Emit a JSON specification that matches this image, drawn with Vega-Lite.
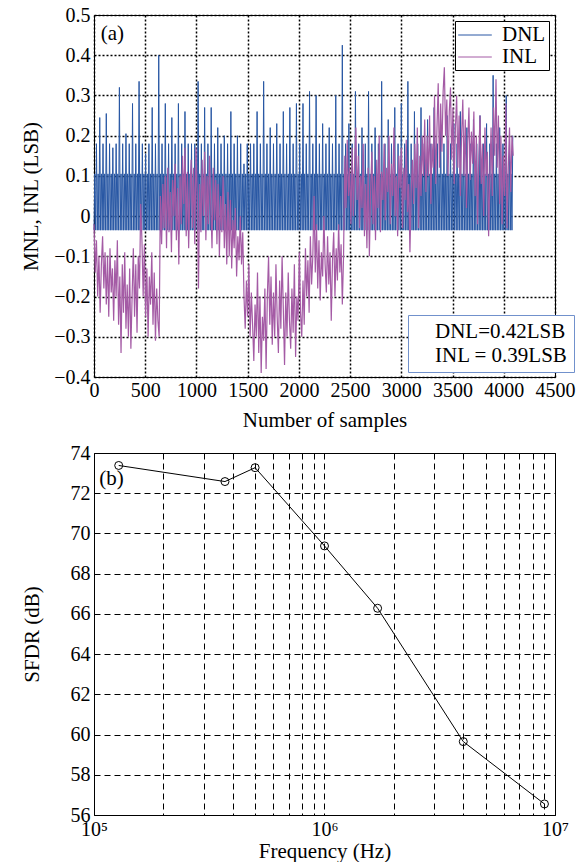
{
"$schema": "https://vega.github.io/schema/vega-lite/v6.json",
"padding": {"left": 20, "top": 4, "right": 5, "bottom": 0},
"spacing": 11,
"datasets": {
"dnl": [
{"x":0,"y":-0.035},{"x":8,"y":0.105},{"x":16,"y":-0.035},{"x":24,"y":0.18},{"x":32,"y":-0.035},{"x":40,"y":0.105},{"x":48,"y":-0.035},{"x":56,"y":0.245},
{"x":64,"y":-0.035},{"x":72,"y":0.105},{"x":80,"y":-0.035},{"x":88,"y":0.18},{"x":96,"y":-0.035},{"x":104,"y":0.105},{"x":112,"y":-0.035},{"x":120,"y":0.255},
{"x":128,"y":-0.035},{"x":136,"y":0.105},{"x":144,"y":-0.035},{"x":152,"y":0.18},{"x":160,"y":-0.035},{"x":168,"y":0.105},{"x":176,"y":-0.035},{"x":184,"y":0.17},
{"x":192,"y":-0.035},{"x":200,"y":0.105},{"x":208,"y":-0.035},{"x":216,"y":0.18},{"x":224,"y":-0.035},{"x":232,"y":0.105},{"x":240,"y":-0.035},{"x":248,"y":0.32},
{"x":256,"y":-0.035},{"x":264,"y":0.105},{"x":272,"y":-0.035},{"x":280,"y":0.18},{"x":288,"y":-0.035},{"x":296,"y":0.105},{"x":304,"y":-0.035},{"x":312,"y":0.205},
{"x":320,"y":-0.035},{"x":328,"y":0.105},{"x":336,"y":-0.035},{"x":344,"y":0.18},{"x":352,"y":-0.035},{"x":360,"y":0.105},{"x":368,"y":-0.035},{"x":376,"y":0.28},
{"x":384,"y":-0.035},{"x":392,"y":0.105},{"x":400,"y":-0.035},{"x":408,"y":0.18},{"x":416,"y":-0.035},{"x":424,"y":0.105},{"x":432,"y":-0.035},{"x":440,"y":0.335},
{"x":448,"y":-0.035},{"x":456,"y":0.105},{"x":464,"y":-0.035},{"x":472,"y":0.18},{"x":480,"y":-0.035},{"x":488,"y":0.105},{"x":496,"y":-0.035},{"x":504,"y":0.155},
{"x":512,"y":-0.035},{"x":520,"y":0.105},{"x":528,"y":-0.035},{"x":536,"y":0.18},{"x":544,"y":-0.035},{"x":552,"y":0.105},{"x":560,"y":-0.035},{"x":568,"y":0.27},
{"x":576,"y":-0.035},{"x":584,"y":0.105},{"x":592,"y":-0.035},{"x":600,"y":0.18},{"x":608,"y":-0.035},{"x":616,"y":0.105},{"x":624,"y":-0.035},{"x":632,"y":0.4},
{"x":640,"y":-0.035},{"x":648,"y":0.105},{"x":656,"y":-0.035},{"x":664,"y":0.18},{"x":672,"y":-0.035},{"x":680,"y":0.105},{"x":688,"y":-0.035},{"x":696,"y":0.28},
{"x":704,"y":-0.035},{"x":712,"y":0.105},{"x":720,"y":-0.035},{"x":728,"y":0.18},{"x":736,"y":-0.035},{"x":744,"y":0.105},{"x":752,"y":-0.035},{"x":760,"y":0.245},
{"x":768,"y":-0.035},{"x":776,"y":0.105},{"x":784,"y":-0.035},{"x":792,"y":0.18},{"x":800,"y":-0.035},{"x":808,"y":0.105},{"x":816,"y":-0.035},{"x":824,"y":0.28},
{"x":832,"y":-0.035},{"x":840,"y":0.105},{"x":848,"y":-0.035},{"x":856,"y":0.18},{"x":864,"y":-0.035},{"x":872,"y":0.105},{"x":880,"y":-0.035},{"x":888,"y":0.26},
{"x":896,"y":-0.035},{"x":904,"y":0.105},{"x":912,"y":-0.035},{"x":920,"y":0.18},{"x":928,"y":-0.035},{"x":936,"y":0.105},{"x":944,"y":-0.035},{"x":952,"y":0.18},
{"x":960,"y":-0.035},{"x":968,"y":0.105},{"x":976,"y":-0.035},{"x":984,"y":0.18},{"x":992,"y":-0.035},{"x":1000,"y":0.105},{"x":1008,"y":-0.035},{"x":1016,"y":0.335},
{"x":1024,"y":-0.035},{"x":1032,"y":0.105},{"x":1040,"y":-0.035},{"x":1048,"y":0.18},{"x":1056,"y":-0.035},{"x":1064,"y":0.105},{"x":1072,"y":-0.035},{"x":1080,"y":0.27},
{"x":1088,"y":-0.035},{"x":1096,"y":0.105},{"x":1104,"y":-0.035},{"x":1112,"y":0.18},{"x":1120,"y":-0.035},{"x":1128,"y":0.105},{"x":1136,"y":-0.035},{"x":1144,"y":0.27},
{"x":1152,"y":-0.035},{"x":1160,"y":0.105},{"x":1168,"y":-0.035},{"x":1176,"y":0.18},{"x":1184,"y":-0.035},{"x":1192,"y":0.105},{"x":1200,"y":-0.035},{"x":1208,"y":0.22},
{"x":1216,"y":-0.035},{"x":1224,"y":0.105},{"x":1232,"y":-0.035},{"x":1240,"y":0.18},{"x":1248,"y":-0.035},{"x":1256,"y":0.105},{"x":1264,"y":-0.035},{"x":1272,"y":0.2},
{"x":1280,"y":-0.035},{"x":1288,"y":0.105},{"x":1296,"y":-0.035},{"x":1304,"y":0.18},{"x":1312,"y":-0.035},{"x":1320,"y":0.105},{"x":1328,"y":-0.035},{"x":1336,"y":0.26},
{"x":1344,"y":-0.035},{"x":1352,"y":0.105},{"x":1360,"y":-0.035},{"x":1368,"y":0.18},{"x":1376,"y":-0.035},{"x":1384,"y":0.105},{"x":1392,"y":-0.035},{"x":1400,"y":0.2},
{"x":1408,"y":-0.035},{"x":1416,"y":0.105},{"x":1424,"y":-0.035},{"x":1432,"y":0.18},{"x":1440,"y":-0.035},{"x":1448,"y":0.105},{"x":1456,"y":-0.035},{"x":1464,"y":0.13},
{"x":1472,"y":-0.035},{"x":1480,"y":0.105},{"x":1488,"y":-0.035},{"x":1496,"y":0.18},{"x":1504,"y":-0.035},{"x":1512,"y":0.105},{"x":1520,"y":-0.035},{"x":1528,"y":0.18},
{"x":1536,"y":-0.035},{"x":1544,"y":0.105},{"x":1552,"y":-0.035},{"x":1560,"y":0.18},{"x":1568,"y":-0.035},{"x":1576,"y":0.105},{"x":1584,"y":-0.035},{"x":1592,"y":0.26},
{"x":1600,"y":-0.035},{"x":1608,"y":0.105},{"x":1616,"y":-0.035},{"x":1624,"y":0.18},{"x":1632,"y":-0.035},{"x":1640,"y":0.105},{"x":1648,"y":-0.035},{"x":1656,"y":0.335},
{"x":1664,"y":-0.035},{"x":1672,"y":0.105},{"x":1680,"y":-0.035},{"x":1688,"y":0.18},{"x":1696,"y":-0.035},{"x":1704,"y":0.105},{"x":1712,"y":-0.035},{"x":1720,"y":0.22},
{"x":1728,"y":-0.035},{"x":1736,"y":0.105},{"x":1744,"y":-0.035},{"x":1752,"y":0.18},{"x":1760,"y":-0.035},{"x":1768,"y":0.105},{"x":1776,"y":-0.035},{"x":1784,"y":0.23},
{"x":1792,"y":-0.035},{"x":1800,"y":0.105},{"x":1808,"y":-0.035},{"x":1816,"y":0.18},{"x":1824,"y":-0.035},{"x":1832,"y":0.105},{"x":1840,"y":-0.035},{"x":1848,"y":0.26},
{"x":1856,"y":-0.035},{"x":1864,"y":0.105},{"x":1872,"y":-0.035},{"x":1880,"y":0.18},{"x":1888,"y":-0.035},{"x":1896,"y":0.105},{"x":1904,"y":-0.035},{"x":1912,"y":0.27},
{"x":1920,"y":-0.035},{"x":1928,"y":0.105},{"x":1936,"y":-0.035},{"x":1944,"y":0.18},{"x":1952,"y":-0.035},{"x":1960,"y":0.105},{"x":1968,"y":-0.035},{"x":1976,"y":0.28},
{"x":1984,"y":-0.035},{"x":1992,"y":0.105},{"x":2000,"y":-0.035},{"x":2008,"y":0.18},{"x":2016,"y":-0.035},{"x":2024,"y":0.105},{"x":2032,"y":-0.035},{"x":2040,"y":0.28},
{"x":2048,"y":-0.035},{"x":2056,"y":0.105},{"x":2064,"y":-0.035},{"x":2072,"y":0.18},{"x":2080,"y":-0.035},{"x":2088,"y":0.105},{"x":2096,"y":-0.035},{"x":2104,"y":0.31},
{"x":2112,"y":-0.035},{"x":2120,"y":0.105},{"x":2128,"y":-0.035},{"x":2136,"y":0.18},{"x":2144,"y":-0.035},{"x":2152,"y":0.105},{"x":2160,"y":-0.035},{"x":2168,"y":0.3},
{"x":2176,"y":-0.035},{"x":2184,"y":0.105},{"x":2192,"y":-0.035},{"x":2200,"y":0.18},{"x":2208,"y":-0.035},{"x":2216,"y":0.105},{"x":2224,"y":-0.035},{"x":2232,"y":0.23},
{"x":2240,"y":-0.035},{"x":2248,"y":0.105},{"x":2256,"y":-0.035},{"x":2264,"y":0.18},{"x":2272,"y":-0.035},{"x":2280,"y":0.105},{"x":2288,"y":-0.035},{"x":2296,"y":0.22},
{"x":2304,"y":-0.035},{"x":2312,"y":0.105},{"x":2320,"y":-0.035},{"x":2328,"y":0.18},{"x":2336,"y":-0.035},{"x":2344,"y":0.105},{"x":2352,"y":-0.035},{"x":2360,"y":0.3},
{"x":2368,"y":-0.035},{"x":2376,"y":0.105},{"x":2384,"y":-0.035},{"x":2392,"y":0.18},{"x":2400,"y":-0.035},{"x":2408,"y":0.105},{"x":2416,"y":-0.035},{"x":2424,"y":0.425},
{"x":2432,"y":-0.035},{"x":2440,"y":0.105},{"x":2448,"y":-0.035},{"x":2456,"y":0.18},{"x":2464,"y":-0.035},{"x":2472,"y":0.105},{"x":2480,"y":-0.035},{"x":2488,"y":0.23},
{"x":2496,"y":-0.035},{"x":2504,"y":0.105},{"x":2512,"y":-0.035},{"x":2520,"y":0.18},{"x":2528,"y":-0.035},{"x":2536,"y":0.105},{"x":2544,"y":-0.035},{"x":2552,"y":0.31},
{"x":2560,"y":-0.035},{"x":2568,"y":0.105},{"x":2576,"y":-0.035},{"x":2584,"y":0.18},{"x":2592,"y":-0.035},{"x":2600,"y":0.105},{"x":2608,"y":-0.035},{"x":2616,"y":0.22},
{"x":2624,"y":-0.035},{"x":2632,"y":0.105},{"x":2640,"y":-0.035},{"x":2648,"y":0.18},{"x":2656,"y":-0.035},{"x":2664,"y":0.105},{"x":2672,"y":-0.035},{"x":2680,"y":0.31},
{"x":2688,"y":-0.035},{"x":2696,"y":0.105},{"x":2704,"y":-0.035},{"x":2712,"y":0.18},{"x":2720,"y":-0.035},{"x":2728,"y":0.105},{"x":2736,"y":-0.035},{"x":2744,"y":0.22},
{"x":2752,"y":-0.035},{"x":2760,"y":0.105},{"x":2768,"y":-0.035},{"x":2776,"y":0.18},{"x":2784,"y":-0.035},{"x":2792,"y":0.105},{"x":2800,"y":-0.035},{"x":2808,"y":0.335},
{"x":2816,"y":-0.035},{"x":2824,"y":0.105},{"x":2832,"y":-0.035},{"x":2840,"y":0.18},{"x":2848,"y":-0.035},{"x":2856,"y":0.105},{"x":2864,"y":-0.035},{"x":2872,"y":0.24},
{"x":2880,"y":-0.035},{"x":2888,"y":0.105},{"x":2896,"y":-0.035},{"x":2904,"y":0.18},{"x":2912,"y":-0.035},{"x":2920,"y":0.105},{"x":2928,"y":-0.035},{"x":2936,"y":0.27},
{"x":2944,"y":-0.035},{"x":2952,"y":0.105},{"x":2960,"y":-0.035},{"x":2968,"y":0.18},{"x":2976,"y":-0.035},{"x":2984,"y":0.105},{"x":2992,"y":-0.035},{"x":3000,"y":0.28},
{"x":3008,"y":-0.035},{"x":3016,"y":0.105},{"x":3024,"y":-0.035},{"x":3032,"y":0.18},{"x":3040,"y":-0.035},{"x":3048,"y":0.105},{"x":3056,"y":-0.035},{"x":3064,"y":0.335},
{"x":3072,"y":-0.035},{"x":3080,"y":0.105},{"x":3088,"y":-0.035},{"x":3096,"y":0.18},{"x":3104,"y":-0.035},{"x":3112,"y":0.105},{"x":3120,"y":-0.035},{"x":3128,"y":0.26},
{"x":3136,"y":-0.035},{"x":3144,"y":0.105},{"x":3152,"y":-0.035},{"x":3160,"y":0.18},{"x":3168,"y":-0.035},{"x":3176,"y":0.105},{"x":3184,"y":-0.035},{"x":3192,"y":0.27},
{"x":3200,"y":-0.035},{"x":3208,"y":0.105},{"x":3216,"y":-0.035},{"x":3224,"y":0.18},{"x":3232,"y":-0.035},{"x":3240,"y":0.105},{"x":3248,"y":-0.035},{"x":3256,"y":0.24},
{"x":3264,"y":-0.035},{"x":3272,"y":0.105},{"x":3280,"y":-0.035},{"x":3288,"y":0.18},{"x":3296,"y":-0.035},{"x":3304,"y":0.105},{"x":3312,"y":-0.035},{"x":3320,"y":0.27},
{"x":3328,"y":-0.035},{"x":3336,"y":0.105},{"x":3344,"y":-0.035},{"x":3352,"y":0.18},{"x":3360,"y":-0.035},{"x":3368,"y":0.105},{"x":3376,"y":-0.035},{"x":3384,"y":0.22},
{"x":3392,"y":-0.035},{"x":3400,"y":0.105},{"x":3408,"y":-0.035},{"x":3416,"y":0.18},{"x":3424,"y":-0.035},{"x":3432,"y":0.105},{"x":3440,"y":-0.035},{"x":3448,"y":0.25},
{"x":3456,"y":-0.035},{"x":3464,"y":0.105},{"x":3472,"y":-0.035},{"x":3480,"y":0.18},{"x":3488,"y":-0.035},{"x":3496,"y":0.105},{"x":3504,"y":-0.035},{"x":3512,"y":0.23},
{"x":3520,"y":-0.035},{"x":3528,"y":0.105},{"x":3536,"y":-0.035},{"x":3544,"y":0.18},{"x":3552,"y":-0.035},{"x":3560,"y":0.105},{"x":3568,"y":-0.035},{"x":3576,"y":0.26},
{"x":3584,"y":-0.035},{"x":3592,"y":0.105},{"x":3600,"y":-0.035},{"x":3608,"y":0.18},{"x":3616,"y":-0.035},{"x":3624,"y":0.105},{"x":3632,"y":-0.035},{"x":3640,"y":0.22},
{"x":3648,"y":-0.035},{"x":3656,"y":0.105},{"x":3664,"y":-0.035},{"x":3672,"y":0.18},{"x":3680,"y":-0.035},{"x":3688,"y":0.105},{"x":3696,"y":-0.035},{"x":3704,"y":0.24},
{"x":3712,"y":-0.035},{"x":3720,"y":0.105},{"x":3728,"y":-0.035},{"x":3736,"y":0.18},{"x":3744,"y":-0.035},{"x":3752,"y":0.105},{"x":3760,"y":-0.035},{"x":3768,"y":0.25},
{"x":3776,"y":-0.035},{"x":3784,"y":0.105},{"x":3792,"y":-0.035},{"x":3800,"y":0.18},{"x":3808,"y":-0.035},{"x":3816,"y":0.105},{"x":3824,"y":-0.035},{"x":3832,"y":0.23},
{"x":3840,"y":-0.035},{"x":3848,"y":0.105},{"x":3856,"y":-0.035},{"x":3864,"y":0.18},{"x":3872,"y":-0.035},{"x":3880,"y":0.105},{"x":3888,"y":-0.035},{"x":3896,"y":0.35},
{"x":3904,"y":-0.035},{"x":3912,"y":0.105},{"x":3920,"y":-0.035},{"x":3928,"y":0.18},{"x":3936,"y":-0.035},{"x":3944,"y":0.105},{"x":3952,"y":-0.035},{"x":3960,"y":0.22},
{"x":3968,"y":-0.035},{"x":3976,"y":0.105},{"x":3984,"y":-0.035},{"x":3992,"y":0.18},{"x":4000,"y":-0.035},{"x":4008,"y":0.105},{"x":4016,"y":-0.035},{"x":4024,"y":0.3},
{"x":4032,"y":-0.035},{"x":4040,"y":0.105},{"x":4048,"y":-0.035},{"x":4056,"y":0.18},{"x":4064,"y":-0.035},{"x":4072,"y":0.105},{"x":4080,"y":-0.035},{"x":4088,"y":0.2}
],
"inl": [
{"x":0,"y":-0.02},{"x":12,"y":-0.14},{"x":24,"y":-0.06},{"x":36,"y":-0.2},{"x":48,"y":-0.1},{"x":60,"y":-0.24},{"x":72,"y":-0.12},{"x":84,"y":-0.05},{"x":96,"y":-0.18},{"x":108,"y":-0.09},
{"x":120,"y":-0.22},{"x":132,"y":-0.1},{"x":144,"y":-0.25},{"x":156,"y":-0.08},{"x":168,"y":-0.19},{"x":180,"y":-0.13},{"x":192,"y":-0.26},{"x":204,"y":-0.11},{"x":216,"y":-0.2},{"x":228,"y":-0.06},
{"x":240,"y":-0.27},{"x":252,"y":-0.15},{"x":264,"y":-0.34},{"x":276,"y":-0.12},{"x":288,"y":-0.24},{"x":300,"y":-0.09},{"x":312,"y":-0.28},{"x":324,"y":-0.17},{"x":336,"y":-0.3},{"x":348,"y":-0.13},
{"x":360,"y":-0.33},{"x":372,"y":-0.2},{"x":384,"y":-0.08},{"x":396,"y":-0.25},{"x":408,"y":-0.12},{"x":420,"y":-0.29},{"x":432,"y":-0.1},{"x":444,"y":-0.18},{"x":456,"y":0.03},{"x":468,"y":-0.06},
{"x":480,"y":-0.2},{"x":492,"y":-0.07},{"x":504,"y":-0.25},{"x":516,"y":-0.13},{"x":528,"y":-0.3},{"x":540,"y":-0.15},{"x":552,"y":-0.22},{"x":564,"y":-0.09},{"x":576,"y":-0.27},{"x":588,"y":-0.14},
{"x":600,"y":-0.31},{"x":612,"y":-0.18},{"x":624,"y":-0.26},{"x":636,"y":-0.3},{"x":648,"y":0.05},{"x":660,"y":-0.07},{"x":672,"y":0.08},{"x":684,"y":-0.03},{"x":696,"y":0.1},{"x":708,"y":-0.08},
{"x":720,"y":0.12},{"x":732,"y":-0.04},{"x":744,"y":0.06},{"x":756,"y":-0.09},{"x":768,"y":0.09},{"x":780,"y":0},{"x":792,"y":0.13},{"x":804,"y":-0.06},{"x":816,"y":0.07},{"x":828,"y":-0.12},
{"x":840,"y":0.1},{"x":852,"y":-0.02},{"x":864,"y":0.15},{"x":876,"y":0.03},{"x":888,"y":0.17},{"x":900,"y":-0.05},{"x":912,"y":0.11},{"x":924,"y":-0.08},{"x":936,"y":0.06},{"x":948,"y":0.14},
{"x":960,"y":-0.03},{"x":972,"y":0.12},{"x":984,"y":-0.07},{"x":996,"y":0.17},{"x":1008,"y":0.05},{"x":1020,"y":-0.18},{"x":1032,"y":0.08},{"x":1044,"y":-0.04},{"x":1056,"y":0.14},{"x":1068,"y":0},
{"x":1080,"y":0.16},{"x":1092,"y":-0.06},{"x":1104,"y":0.1},{"x":1116,"y":-0.02},{"x":1128,"y":0.15},{"x":1140,"y":0.03},{"x":1152,"y":-0.08},{"x":1164,"y":0.12},{"x":1176,"y":-0.01},{"x":1188,"y":0.09},
{"x":1200,"y":-0.07},{"x":1212,"y":0.08},{"x":1224,"y":-0.1},{"x":1236,"y":0.05},{"x":1248,"y":-0.04},{"x":1260,"y":0.1},{"x":1272,"y":-0.08},{"x":1284,"y":0.03},{"x":1296,"y":-0.12},{"x":1308,"y":0.06},
{"x":1320,"y":-0.1},{"x":1332,"y":0.04},{"x":1344,"y":-0.13},{"x":1356,"y":-0.01},{"x":1368,"y":-0.08},{"x":1380,"y":0.02},{"x":1392,"y":-0.15},{"x":1404,"y":-0.05},{"x":1416,"y":-0.11},{"x":1428,"y":0},
{"x":1440,"y":-0.12},{"x":1452,"y":-0.04},{"x":1464,"y":-0.2},{"x":1476,"y":-0.28},{"x":1488,"y":-0.16},{"x":1500,"y":-0.25},{"x":1512,"y":-0.12},{"x":1524,"y":-0.3},{"x":1536,"y":-0.19},{"x":1548,"y":-0.27},
{"x":1560,"y":-0.36},{"x":1572,"y":-0.22},{"x":1584,"y":-0.3},{"x":1596,"y":-0.14},{"x":1608,"y":-0.34},{"x":1620,"y":-0.2},{"x":1632,"y":-0.39},{"x":1644,"y":-0.25},{"x":1656,"y":-0.31},{"x":1668,"y":-0.18},
{"x":1680,"y":-0.38},{"x":1692,"y":-0.2},{"x":1704,"y":-0.1},{"x":1716,"y":-0.27},{"x":1728,"y":-0.15},{"x":1740,"y":-0.32},{"x":1752,"y":-0.19},{"x":1764,"y":-0.3},{"x":1776,"y":-0.12},{"x":1788,"y":-0.25},
{"x":1800,"y":-0.34},{"x":1812,"y":-0.16},{"x":1824,"y":-0.28},{"x":1836,"y":-0.1},{"x":1848,"y":-0.23},{"x":1860,"y":-0.37},{"x":1872,"y":-0.19},{"x":1884,"y":-0.3},{"x":1896,"y":-0.14},{"x":1908,"y":-0.26},
{"x":1920,"y":-0.33},{"x":1932,"y":-0.18},{"x":1944,"y":-0.29},{"x":1956,"y":-0.12},{"x":1968,"y":-0.35},{"x":1980,"y":-0.2},{"x":1992,"y":-0.26},{"x":2004,"y":-0.09},{"x":2016,"y":-0.24},{"x":2028,"y":-0.3},
{"x":2040,"y":-0.16},{"x":2052,"y":-0.27},{"x":2064,"y":-0.08},{"x":2076,"y":-0.2},{"x":2088,"y":-0.11},{"x":2100,"y":-0.24},{"x":2112,"y":-0.05},{"x":2124,"y":-0.17},{"x":2136,"y":-0.1},{"x":2148,"y":0.05},
{"x":2160,"y":-0.14},{"x":2172,"y":-0.02},{"x":2184,"y":-0.18},{"x":2196,"y":-0.06},{"x":2208,"y":-0.21},{"x":2220,"y":-0.09},{"x":2232,"y":-0.15},{"x":2244,"y":0},{"x":2256,"y":-0.12},{"x":2268,"y":-0.19},
{"x":2280,"y":-0.05},{"x":2292,"y":-0.17},{"x":2304,"y":-0.09},{"x":2316,"y":-0.26},{"x":2328,"y":-0.11},{"x":2340,"y":-0.04},{"x":2352,"y":-0.2},{"x":2364,"y":-0.08},{"x":2376,"y":-0.16},{"x":2388,"y":-0.02},
{"x":2400,"y":-0.14},{"x":2412,"y":-0.07},{"x":2424,"y":-0.22},{"x":2436,"y":-0.1},{"x":2448,"y":0.15},{"x":2460,"y":0.02},{"x":2472,"y":0.19},{"x":2484,"y":0.05},{"x":2496,"y":0.12},{"x":2508,"y":-0.02},
{"x":2520,"y":0.17},{"x":2532,"y":0},{"x":2544,"y":0.13},{"x":2556,"y":0.22},{"x":2568,"y":0.04},{"x":2580,"y":0.15},{"x":2592,"y":-0.03},{"x":2604,"y":0.1},{"x":2616,"y":0.02},{"x":2628,"y":0.18},
{"x":2640,"y":-0.05},{"x":2652,"y":0.08},{"x":2664,"y":-0.08},{"x":2676,"y":0.12},{"x":2688,"y":-0.1},{"x":2700,"y":0.06},{"x":2712,"y":0.16},{"x":2724,"y":-0.02},{"x":2736,"y":0.1},{"x":2748,"y":-0.06},
{"x":2760,"y":0.14},{"x":2772,"y":0.02},{"x":2784,"y":0.2},{"x":2796,"y":-0.04},{"x":2808,"y":0.11},{"x":2820,"y":0.04},{"x":2832,"y":0.18},{"x":2844,"y":-0.01},{"x":2856,"y":0.12},{"x":2868,"y":0.06},
{"x":2880,"y":0.2},{"x":2892,"y":-0.02},{"x":2904,"y":0.13},{"x":2916,"y":0.05},{"x":2928,"y":0.22},{"x":2940,"y":0},{"x":2952,"y":0.1},{"x":2964,"y":-0.05},{"x":2976,"y":0.15},{"x":2988,"y":0.07},
{"x":3000,"y":0.17},{"x":3012,"y":-0.03},{"x":3024,"y":0.12},{"x":3036,"y":0.04},{"x":3048,"y":0.19},{"x":3060,"y":0.01},{"x":3072,"y":0.08},{"x":3084,"y":-0.09},{"x":3096,"y":0.06},{"x":3108,"y":0.14},
{"x":3120,"y":0.03},{"x":3132,"y":0.18},{"x":3144,"y":0.07},{"x":3156,"y":0.22},{"x":3168,"y":-0.03},{"x":3180,"y":0.15},{"x":3192,"y":0.05},{"x":3204,"y":0.2},{"x":3216,"y":0.1},{"x":3228,"y":0.24},
{"x":3240,"y":0.06},{"x":3252,"y":0.2},{"x":3264,"y":0.1},{"x":3276,"y":0.25},{"x":3288,"y":0.03},{"x":3300,"y":0.18},{"x":3312,"y":0.12},{"x":3324,"y":0.3},{"x":3336,"y":0.08},{"x":3348,"y":0.22},
{"x":3360,"y":0.33},{"x":3372,"y":0.12},{"x":3384,"y":0.28},{"x":3396,"y":0.16},{"x":3408,"y":0.31},{"x":3420,"y":0.37},{"x":3432,"y":0.2},{"x":3444,"y":0.29},{"x":3456,"y":0.1},{"x":3468,"y":0.26},
{"x":3480,"y":0.32},{"x":3492,"y":0.14},{"x":3504,"y":0.27},{"x":3516,"y":0.08},{"x":3528,"y":0.22},{"x":3540,"y":0.3},{"x":3552,"y":0.12},{"x":3564,"y":0.25},{"x":3576,"y":0.05},{"x":3588,"y":0.2},
{"x":3600,"y":0.29},{"x":3612,"y":0.1},{"x":3624,"y":0.24},{"x":3636,"y":0.02},{"x":3648,"y":0.18},{"x":3660,"y":0.27},{"x":3672,"y":0.09},{"x":3684,"y":0.21},{"x":3696,"y":0.13},{"x":3708,"y":0.26},
{"x":3720,"y":0.05},{"x":3732,"y":0.2},{"x":3744,"y":-0.02},{"x":3756,"y":0.15},{"x":3768,"y":0.25},{"x":3780,"y":0.08},{"x":3792,"y":0.18},{"x":3804,"y":0},{"x":3816,"y":0.22},{"x":3828,"y":0.1},
{"x":3840,"y":0.16},{"x":3852,"y":-0.05},{"x":3864,"y":0.1},{"x":3876,"y":0.22},{"x":3888,"y":0.05},{"x":3900,"y":0.27},{"x":3912,"y":0.15},{"x":3924,"y":0.34},{"x":3936,"y":0.12},{"x":3948,"y":0.25},
{"x":3960,"y":0.03},{"x":3972,"y":0.2},{"x":3984,"y":-0.02},{"x":3996,"y":0.15},{"x":4008,"y":0.05},{"x":4020,"y":0.28},{"x":4032,"y":-0.03},{"x":4044,"y":0.12},{"x":4056,"y":0.22},{"x":4068,"y":0.06},
{"x":4080,"y":0.2},{"x":4092,"y":0.15}
],
"sfdr": [
{"f":128000,"s":73.38},{"f":370000,"s":72.58},{"f":500000,"s":73.27},{"f":1000000,"s":69.38},{"f":1700000,"s":66.28},{"f":4000000,"s":59.65},{"f":9000000,"s":56.55}
]
},
"vconcat": [
{
"width": 461, "height": 362,
"layer": [
{"data": {"name": "dnl"},
 "mark": {"type": "line", "strokeWidth": 1},
 "encoding": {
  "x": {"field": "x", "type": "quantitative", "title": "Number of samples",
        "scale": {"domain": [0, 4500], "nice": false, "zero": false},
        "axis": {"values": [0,500,1000,1500,2000,2500,3000,3500,4000,4500], "format": "d", "gridDash": [2,2], "gridWidth": 1.5, "labelPadding": 3, "titlePadding": 9}},
  "y": {"field": "y", "type": "quantitative", "title": "MNL, INL (LSB)",
        "scale": {"domain": [-0.4, 0.5], "nice": false, "zero": false},
        "axis": {"values": [-0.4,-0.3,-0.2,-0.1,0,0.1,0.2,0.3,0.4,0.5], "format": ".1~f", "gridDash": [2,2], "gridWidth": 1.5, "labelPadding": 4, "titlePadding": 12}},
  "color": {"datum": "DNL", "type": "nominal",
            "scale": {"domain": ["DNL", "INL"], "range": ["#2857a4", "#a45ba5"]},
            "legend": {"orient": "top-right", "offset": 6, "title": null, "symbolType": "M-1.6,0H1.6", "symbolSize": 441, "symbolStrokeWidth": 1, "symbolOffset": 6,
                       "labelFont": "Liberation Serif", "labelFontSize": 21, "labelColor": "black", "labelOffset": 16,
                       "strokeColor": "black", "fillColor": "white", "padding": 3, "rowPadding": 1, "zindex": 2}}
 }},
{"data": {"name": "inl"},
 "mark": {"type": "line", "strokeWidth": 1.2},
 "encoding": {
  "x": {"field": "x", "type": "quantitative"},
  "y": {"field": "y", "type": "quantitative"},
  "color": {"datum": "INL", "type": "nominal"}
 }},
{"data": {"values": [{"t": "DNL=0.42LSB"}, {"t": "INL = 0.39LSB"}]},
 "mark": {"type": "point", "opacity": 0},
 "encoding": {
  "x": {"datum": 0, "type": "quantitative"},
  "y": {"datum": 0, "type": "quantitative"},
  "shape": {"field": "t", "type": "nominal", "scale": {"domain": ["DNL=0.42LSB", "INL = 0.39LSB"]},
            "legend": {"orient": "none", "legendX": 314, "legendY": 300, "title": null, "symbolOpacity": 0, "symbolSize": 1, "symbolStrokeWidth": 0,
                       "labelOffset": 0, "labelFont": "Liberation Serif", "labelFontSize": 21, "labelColor": "black", "labelLimit": 0,
                       "strokeColor": "#7191cc", "fillColor": "white", "padding": 6, "rowPadding": 2, "zindex": 2}}
 }},
{"data": {"values": [{}]},
 "mark": {"type": "text", "font": "Liberation Serif", "fontSize": 21, "color": "black"},
 "encoding": {
  "x": {"datum": 180, "type": "quantitative"},
  "y": {"datum": 0.453, "type": "quantitative"},
  "text": {"value": "(a)"}
 }}
]
},
{
"width": 461, "height": 362,
"data": {"name": "sfdr"},
"layer": [
{"mark": {"type": "line", "color": "black", "strokeWidth": 1},
 "encoding": {
  "x": {"field": "f", "type": "quantitative", "title": "Frequency (Hz)",
        "scale": {"type": "log", "domain": [100000, 10000000], "nice": false},
        "axis": {"values": [100000,200000,300000,400000,500000,600000,700000,800000,900000,1000000,2000000,3000000,4000000,5000000,6000000,7000000,8000000,9000000,10000000],
                 "labelExpr": "datum.value == 100000 ? '10⁵' : datum.value == 1000000 ? '10⁶' : datum.value == 10000000 ? '10⁷' : ''",
                 "gridDash": [6,4], "gridWidth": 1, "labelPadding": 4, "titlePadding": 1}},
  "y": {"field": "s", "type": "quantitative", "title": "SFDR (dB)",
        "scale": {"domain": [56, 74], "nice": false, "zero": false},
        "axis": {"values": [56,58,60,62,64,66,68,70,72,74], "gridDash": [6,4], "gridWidth": 1, "labelPadding": 4, "titlePadding": 28}}
 }},
{"mark": {"type": "point", "shape": "circle", "size": 64, "color": "black", "strokeWidth": 1, "filled": false, "opacity": 1},
 "encoding": {
  "x": {"field": "f", "type": "quantitative"},
  "y": {"field": "s", "type": "quantitative"}
 }},
{"data": {"values": [{}]},
 "mark": {"type": "text", "font": "Liberation Serif", "fontSize": 21, "color": "black"},
 "encoding": {
  "x": {"datum": 119000, "type": "quantitative"},
  "y": {"datum": 72.72, "type": "quantitative"},
  "text": {"value": "(b)"}
 }}
]
}
],
"config": {
 "font": "Liberation Serif",
 "background": "white",
 "view": {"stroke": "black", "strokeWidth": 1},
 "axis": {"labelFont": "Liberation Serif", "titleFont": "Liberation Serif", "labelFontSize": 20, "titleFontSize": 21, "titleFontWeight": "normal",
          "labelColor": "black", "titleColor": "black", "domain": false, "ticks": false, "gridColor": "black", "gridOpacity": 1,
          "labelFlush": false, "labelOverlap": false, "zindex": 1}
}
}
